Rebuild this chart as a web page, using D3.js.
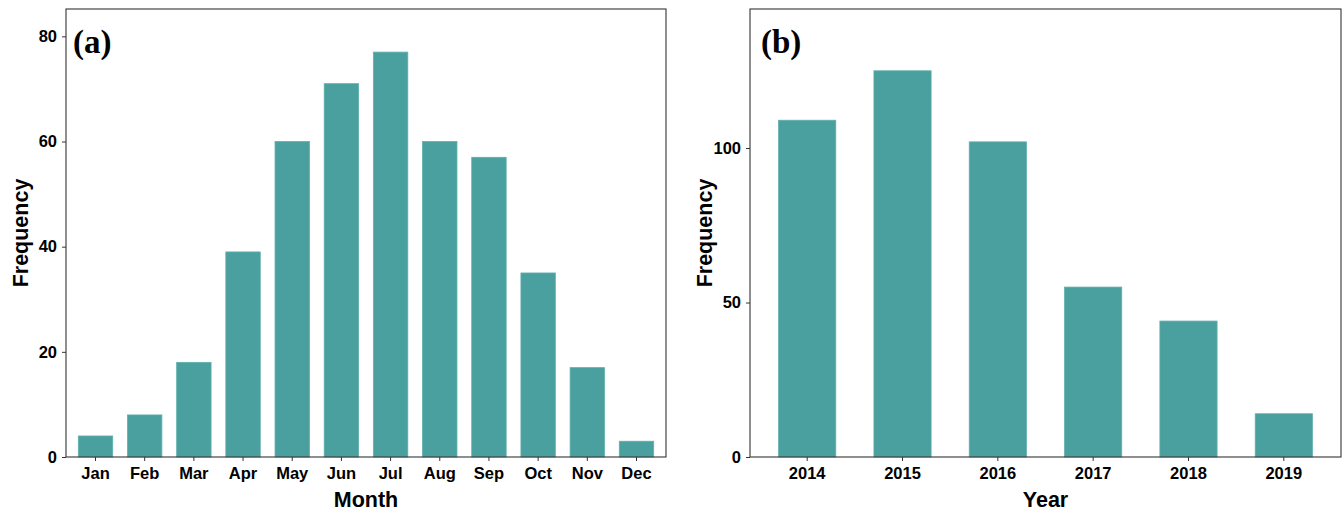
<!DOCTYPE html>
<html>
<head>
<meta charset="utf-8">
<script src="https://cdn.jsdelivr.net/npm/d3@7"></script>
<style>
  body { margin: 0; background: #fff; }
  svg { display: block; }
</style>
</head>
<body>
<svg id="chart" width="1344" height="513"></svg>
<script>
// Monthly counts (panel a)
const months = ["Jan","Feb","Mar","Apr","May","Jun","Jul","Aug","Sep","Oct","Nov","Dec"];
const monthFreq = [4, 8, 18, 39, 60, 71, 77, 60, 57, 35, 17, 3];
const monthTicks = [0, 20, 40, 60, 80];

// Yearly counts (panel b)
const years = ["2014","2015","2016","2017","2018","2019"];
const yearFreq = [109, 125, 102, 55, 44, 14];
const yearTicks = [0, 50, 100];

const barFill = "#4aa09f";
const svg = d3.select("#chart");

function panel(opts) {
  const { left, right, top, bottom, cats, vals, yMax, ticks, padding, xTitle, tag, tagDx } = opts;
  const g = svg.append("g");

  // discrete axis with 0.6 band expansion on each side
  const n = cats.length;
  const step = (right - left) / (n - 1 + 1.2);
  const x = d3.scaleBand().domain(cats)
    .range([left + 0.6 * step - step / 2, right - 0.6 * step + step / 2])
    .paddingInner(padding).paddingOuter(padding / 2);
  const y = d3.scaleLinear().domain([0, yMax]).range([bottom, top]);

  g.selectAll("rect.bar").data(cats).join("rect")
    .attr("class", "bar")
    .attr("x", d => x(d))
    .attr("width", x.bandwidth())
    .attr("y", (d, i) => y(vals[i]))
    .attr("height", (d, i) => bottom - y(vals[i]))
    .attr("fill", barFill)
    .attr("stroke", "#5fb0ae")
    .attr("stroke-width", 0.8);

  // panel border
  g.append("rect")
    .attr("x", left).attr("y", top)
    .attr("width", right - left).attr("height", bottom - top)
    .attr("fill", "none").attr("stroke", "#333").attr("stroke-width", 1.1);

  const yAxis = d3.axisLeft(y).tickValues(ticks).tickSize(4).tickPadding(5);
  const ya = g.append("g").attr("transform", `translate(${left},0)`).call(yAxis);
  ya.select(".domain").remove();
  ya.selectAll(".tick line").attr("stroke", "#333");
  ya.selectAll(".tick text")
    .attr("font-family", "Liberation Sans, Arial, sans-serif")
    .attr("font-weight", "bold").attr("font-size", 16.5).attr("fill", "#000");

  const xAxis = d3.axisBottom(x).tickSize(4).tickPadding(6);
  const xa = g.append("g").attr("transform", `translate(0,${bottom})`).call(xAxis);
  xa.select(".domain").remove();
  xa.selectAll(".tick line").attr("stroke", "#333");
  xa.selectAll(".tick text")
    .attr("font-family", "Liberation Sans, Arial, sans-serif")
    .attr("font-weight", "bold").attr("font-size", 16.5).attr("fill", "#000");

  // axis titles
  g.append("text")
    .attr("x", (left + right) / 2).attr("y", 507)
    .attr("text-anchor", "middle")
    .attr("font-family", "Liberation Sans, Arial, sans-serif")
    .attr("font-weight", "bold").attr("font-size", 21.5)
    .text(xTitle);
  g.append("text")
    .attr("transform", `translate(${left - 38},${(top + bottom) / 2}) rotate(-90)`)
    .attr("text-anchor", "middle")
    .attr("font-family", "Liberation Sans, Arial, sans-serif")
    .attr("font-weight", "bold").attr("font-size", 21.5)
    .text("Frequency");

  // panel tag
  g.append("text")
    .attr("x", left + tagDx).attr("y", top + 44)
    .attr("font-family", "Liberation Serif, Times New Roman, serif")
    .attr("font-weight", "bold").attr("font-size", 33)
    .text(tag);
}

panel({ left: 66, right: 666, top: 9, bottom: 457, cats: months, vals: monthFreq,
        yMax: 85.2, ticks: monthTicks, padding: 0.3, xTitle: "Month", tag: "(a)", tagDx: 7 });
panel({ left: 750, right: 1341, top: 9, bottom: 457, cats: years, vals: yearFreq,
        yMax: 145, ticks: yearTicks, padding: 0.4, xTitle: "Year", tag: "(b)", tagDx: 11 });
</script>
</body>
</html>
